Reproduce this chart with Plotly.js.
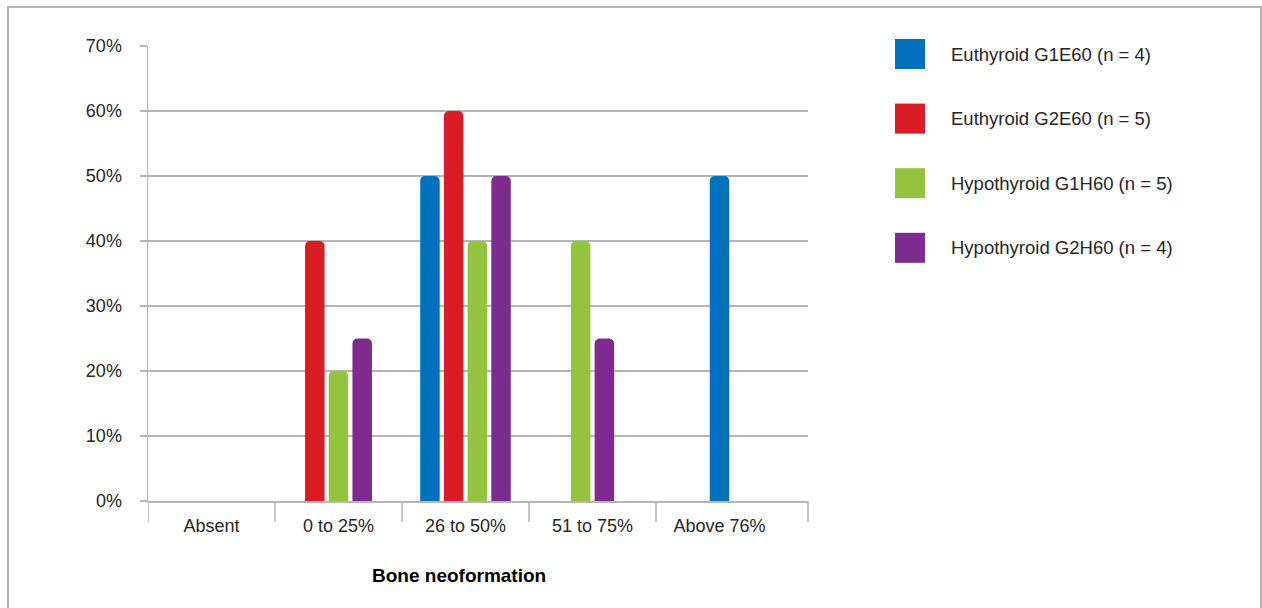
<!DOCTYPE html>
<html>
<head>
<meta charset="utf-8">
<script src="https://cdn.plot.ly/plotly-3.0.1.min.js"></script>
<style>
  html, body { margin: 0; padding: 0; background: #fff; }
  #wrap { position: relative; width: 1262px; height: 608px; overflow: hidden; }
  #chart { position: absolute; left: 0; top: 0; width: 1262px; height: 608px; }
  #frame { position: absolute; left: 7px; top: 6px; width: 1251px; height: 700px;
           border: 2px solid #b3b3b3; pointer-events: none; }
</style>
</head>
<body>
<div id="wrap">
  <div id="chart"></div>
  <div id="frame"></div>
</div>
<script>
// ---- data ----
const categories = ['Absent', '0 to 25%', '26 to 50%', '51 to 75%', 'Above 76%'];
const seriesNames = ['Euthyroid G1E60 (n = 4)', 'Euthyroid G2E60 (n = 5)',
                     'Hypothyroid G1H60 (n = 5)', 'Hypothyroid G2H60 (n = 4)'];
const euthyroidG1E60   = [null, null, 50, null, 50];
const euthyroidG2E60   = [null, 40, 60, null, null];
const hypothyroidG1H60 = [null, 20, 40, 40, null];
const hypothyroidG2H60 = [null, 25, 50, 25, null];
const yTickValues = [0, 10, 20, 30, 40, 50, 60, 70];
const xAxisTitle = 'Bone neoformation';

// ---- styles ----
const colors = ['#0071bc', '#da1c24', '#94c33d', '#7e2b8f'];
const seriesValues = [euthyroidG1E60, euthyroidG2E60, hypothyroidG1H60, hypothyroidG2H60];
const textColor = '#262626';
const fontFamily = '"Liberation Sans", Arial, Helvetica, sans-serif';
const gridColor = '#b5b5b5';

const plotL = 148, plotR = 808, plotT = 46, plotB = 501, W = 1262, H = 608;
const plotW = plotR - plotL, plotH = plotB - plotT;
const catPx = 127;                      // pixel width of one category
const xMax = (plotW / catPx) - 0.5;     // axis range end
const barW = 19.5 / catPx;
const barGap = 4.2 / catPx;

// offsets: bars in each category centred, skipping empty series
const offsets = seriesValues.map(() => categories.map(() => 0));
categories.forEach((c, j) => {
  const present = seriesValues.map((s, i) => (s[j] !== null ? i : -1)).filter(i => i >= 0);
  const n = present.length;
  const groupW = n * barW + (n - 1) * barGap;
  present.forEach((i, k) => { offsets[i][j] = -groupW / 2 + k * (barW + barGap); });
});

const traces = seriesValues.map((vals, i) => ({
  type: 'bar',
  name: seriesNames[i],
  x: categories,
  y: vals,
  width: barW,
  offset: offsets[i],
  marker: { color: colors[i], cornerradius: 5, line: { width: 0 } },
  hoverinfo: 'x+y+name',
  showlegend: false
}));

// category boundary ticks
const shapes = [];
for (let j = 0; j < categories.length; j++) {
  shapes.push({ type: 'line', xref: 'x', yref: 'paper', x0: j - 0.5, x1: j - 0.5,
                ysizemode: 'pixel', yanchor: 0, y0: 0, y1: -21,
                line: { color: gridColor, width: 1.5 } });
}
shapes.push({ type: 'line', xref: 'paper', yref: 'paper', x0: 1, x1: 1,
              ysizemode: 'pixel', yanchor: 0, y0: 0, y1: -21,
              line: { color: gridColor, width: 1.5 } });

// custom legend (large swatches)
const px2x = p => (p - plotL) / plotW;
const px2y = p => (plotB - p) / plotH;
const legX0 = 895, legSize = 30, legTextX = 949, legY0 = 54, legStep = 64.6;
const annotations = [];
seriesNames.forEach((name, i) => {
  const cy = legY0 + i * legStep;
  shapes.push({ type: 'rect', xref: 'paper', yref: 'paper',
                x0: px2x(legX0), x1: px2x(legX0 + legSize),
                y0: px2y(cy + legSize / 2), y1: px2y(cy - legSize / 2),
                fillcolor: colors[i], line: { width: 0 } });
  annotations.push({ xref: 'paper', yref: 'paper', x: px2x(legTextX), y: px2y(cy),
                     xanchor: 'left', yanchor: 'middle', showarrow: false, text: name,
                     font: { family: fontFamily, size: 18.5, color: textColor } });
});
annotations.push({ xref: 'paper', yref: 'paper', x: px2x(459), y: px2y(575),
                   xanchor: 'center', yanchor: 'middle', showarrow: false,
                   text: '<b>' + xAxisTitle + '</b>',
                   font: { family: fontFamily, size: 19, color: '#000' } });

const layout = {
  width: W, height: H,
  margin: { l: plotL, r: W - plotR, t: plotT, b: H - plotB, pad: 0 },
  paper_bgcolor: 'rgba(0,0,0,0)', plot_bgcolor: 'rgba(0,0,0,0)',
  barmode: 'overlay',
  font: { family: fontFamily, size: 18, color: textColor },
  showlegend: false,
  xaxis: {
    type: 'category', range: [-0.5, xMax], fixedrange: true,
    showline: true, linecolor: gridColor, linewidth: 1.5,
    showgrid: false, zeroline: false, ticks: '',
    ticklabelstandoff: 8,
    tickfont: { family: fontFamily, size: 18, color: textColor }
  },
  yaxis: {
    range: [0, 70], fixedrange: true,
    tickvals: yTickValues, ticktext: yTickValues.map(v => v + '%'),
    showline: true, linecolor: gridColor, linewidth: 1.5,
    showgrid: true, gridcolor: gridColor, gridwidth: 1.3,
    zeroline: false, ticks: 'outside', ticklen: 7, tickcolor: gridColor, tickwidth: 1.3,
    ticklabelstandoff: 14,
    tickfont: { family: fontFamily, size: 18, color: textColor }
  },
  shapes: shapes,
  annotations: annotations
};

Plotly.newPlot('chart', traces, layout, { displayModeBar: false, staticPlot: true });
</script>
</body>
</html>
